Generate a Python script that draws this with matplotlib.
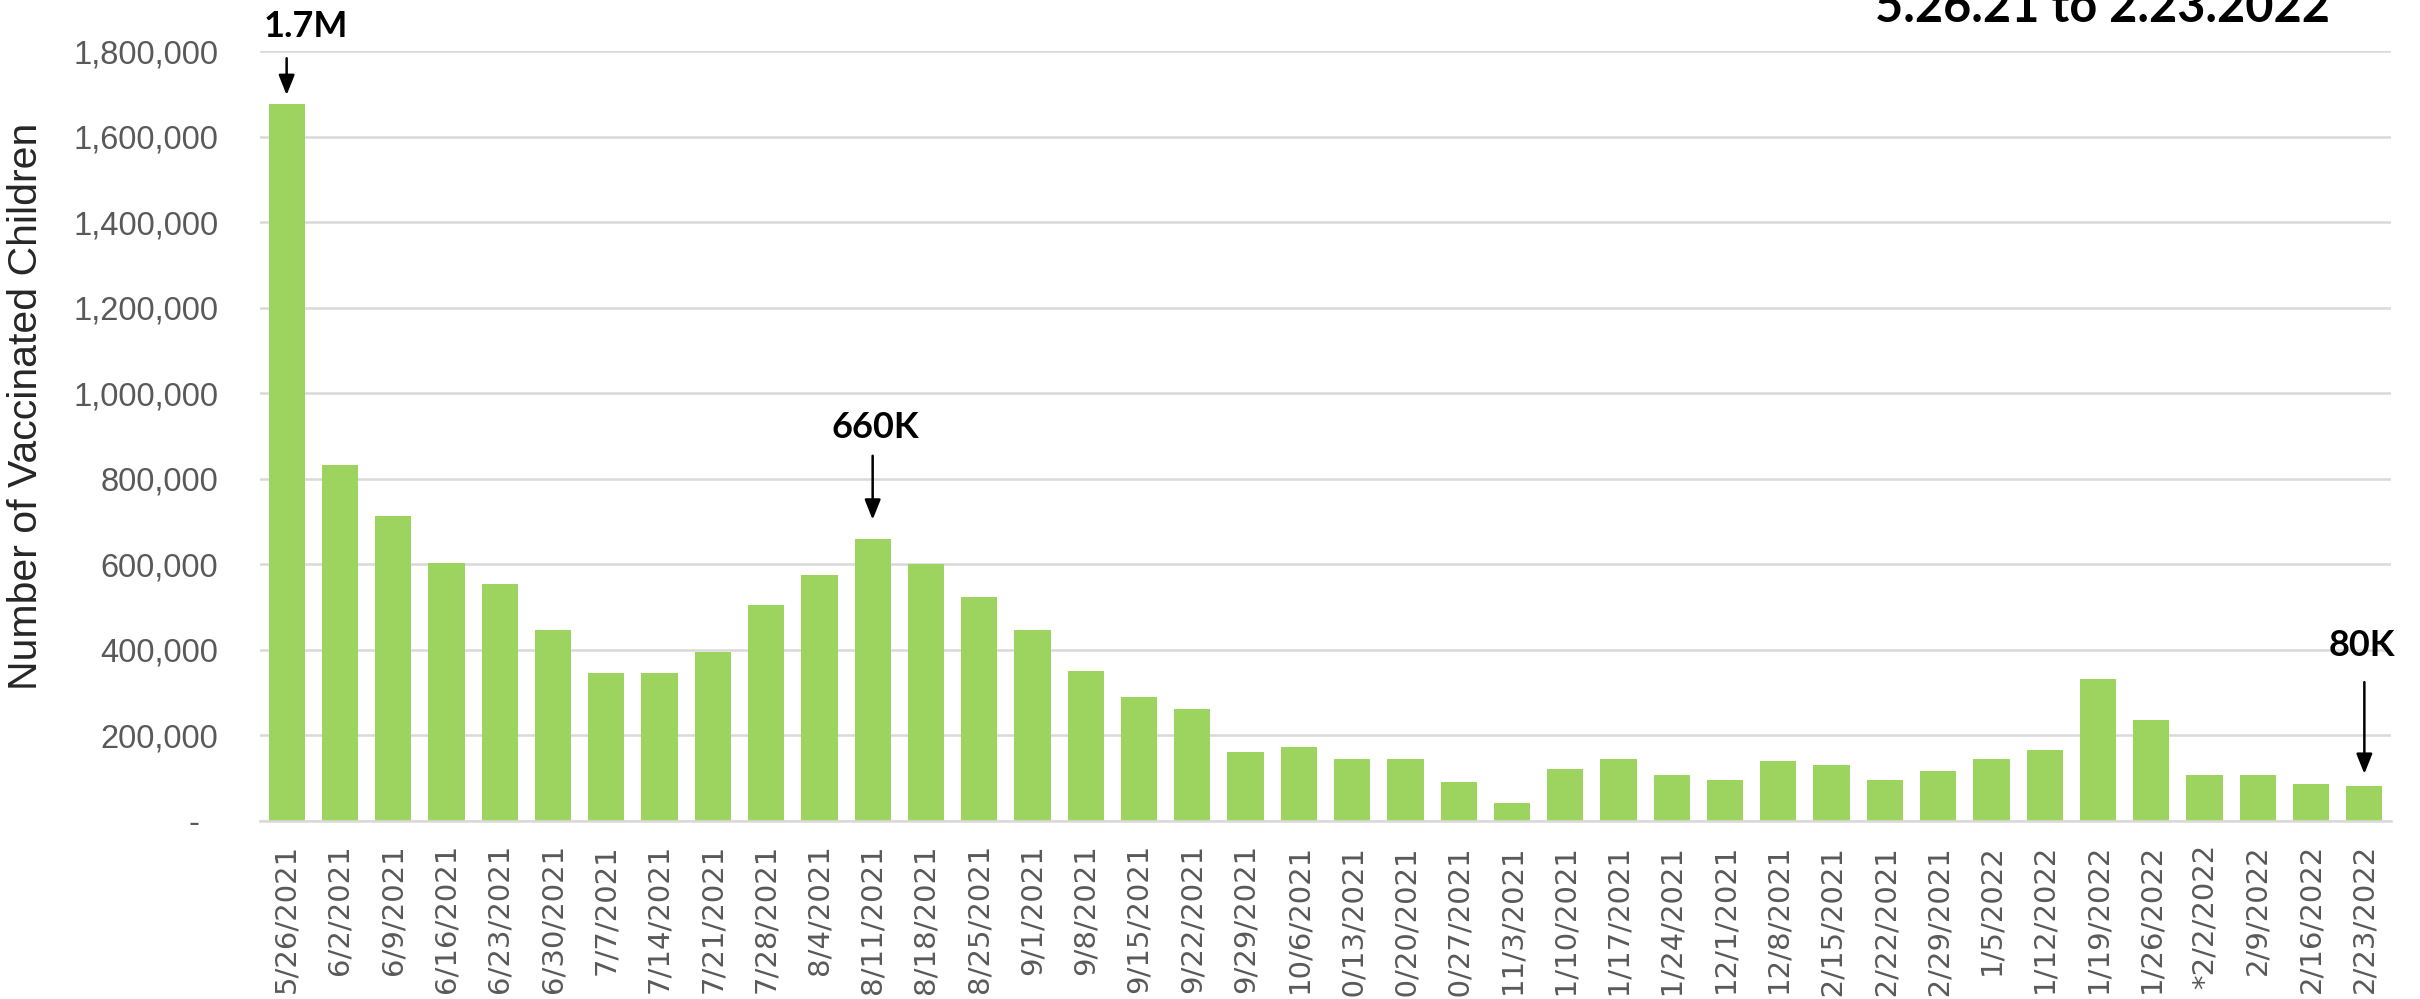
import matplotlib
matplotlib.use("Agg")
import matplotlib.pyplot as plt

# weekly counts of vaccinated children, week starting dates
weeks = ["5/26/2021", "6/2/2021", "6/9/2021", "6/16/2021", "6/23/2021", "6/30/2021",
         "7/7/2021", "7/14/2021", "7/21/2021", "7/28/2021", "8/4/2021", "8/11/2021",
         "8/18/2021", "8/25/2021", "9/1/2021", "9/8/2021", "9/15/2021", "9/22/2021",
         "9/29/2021", "10/6/2021", "10/13/2021", "10/20/2021", "10/27/2021", "11/3/2021",
         "11/10/2021", "11/17/2021", "11/24/2021", "12/1/2021", "12/8/2021", "12/15/2021",
         "12/22/2021", "12/29/2021", "1/5/2022", "1/12/2022", "1/19/2022", "1/26/2022",
         "*2/2/2022", "2/9/2022", "2/16/2022", "2/23/2022"]
children = [1676000, 833000, 714000, 604000, 555000, 446000,
            346000, 346000, 396000, 506000, 575000, 659000,
            600000, 524000, 446000, 351000, 291000, 261000,
            162000, 172000, 146000, 146000, 91000, 41000,
            122000, 146000, 107000, 97000, 141000, 132000,
            97000, 116000, 146000, 166000, 331000, 237000,
            107000, 107000, 87000, 81000]

y_ticks = [0, 200000, 400000, 600000, 800000, 1000000, 1200000, 1400000, 1600000, 1800000]

# callouts: (bar index, label, arrow gap, arrow tail, text height, text x shift) in points
callouts = [(0, "1.7M", 6.5, 33, 48, 14),
            (11, "660K", 14, 60, 73, 2),
            (39, "80K", 9, 75, 94, -2)]

GREEN = "#9dd45f"
GRID = "#d9d9d9"
TICK = "#595959"

fig = plt.figure(figsize=(24.2, 9.99), dpi=100)
ax = fig.add_axes([260 / 2420, 1 - 821 / 999, (2391 - 260) / 2420, (821 - 51) / 999])

x = list(range(len(weeks)))
ax.bar(x, children, width=0.68, color=GREEN, zorder=3)

ax.set_xlim(-0.5, len(weeks) - 0.5)
ax.set_ylim(0, 1800000)
ax.set_yticks(y_ticks)
ax.set_yticklabels(["-  " if v == 0 else "{:,}".format(v) for v in y_ticks],
                   family="Liberation Sans", fontsize=23.5, color=TICK)
ax.set_xticks(x)
ax.set_xticklabels(weeks, rotation=90, fontsize=21, color=TICK, family="DejaVu Sans")
ax.tick_params(axis="x", length=0, pad=16.5)
ax.tick_params(axis="y", length=0, pad=30)

ax.grid(axis="y", color=GRID, linewidth=1.8, zorder=0)
for s in ["top", "right", "left"]:
    ax.spines[s].set_visible(False)
ax.spines["bottom"].set_color(GRID)
ax.spines["bottom"].set_linewidth(1.8)
ax.spines["bottom"].set_zorder(4)

for i, label, gap, tail, th, dx in callouts:
    v = children[i]
    ax.annotate("", xy=(i, v), xytext=(0, tail), textcoords="offset points",
                arrowprops=dict(arrowstyle="-|>,head_length=0.55,head_width=0.22",
                                color="black", lw=1.8, mutation_scale=22,
                                shrinkA=0, shrinkB=gap))
    ax.annotate(label, xy=(i, v), xytext=(dx, th), textcoords="offset points",
                ha="center", va="baseline", fontsize=26, fontweight="bold",
                family="Lato", color="black", annotation_clip=False)

fig.text(26 / 2420, 1 - 406 / 999, "Number of Vaccinated Children", rotation=90,
         ha="center", va="center", fontsize=29.5, color="#262626", family="Liberation Sans")

fig.text(2330 / 2420, 1 - 22 / 999, "5.26.21 to 2.23.2022", ha="right", va="baseline",
         fontsize=35, fontweight="bold", family="Lato", color="black")

fig.savefig("out.png", dpi=100)
